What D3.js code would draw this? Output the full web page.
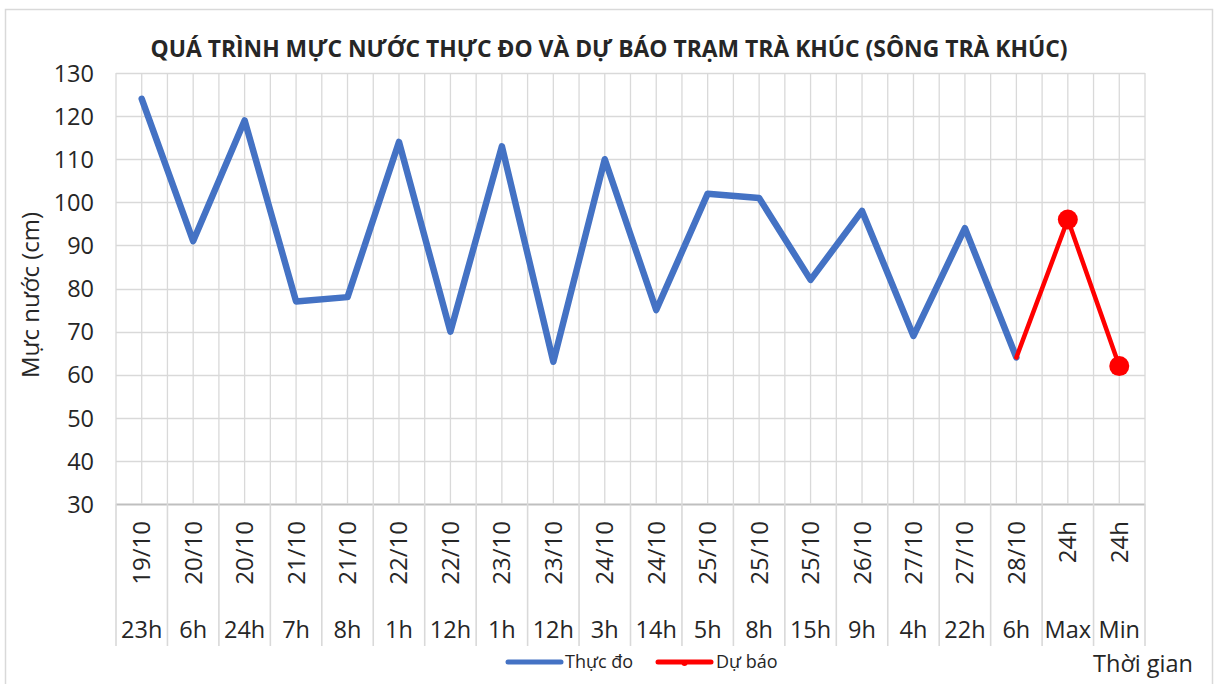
<!DOCTYPE html>
<html>
<head>
<meta charset="utf-8">
<script src="https://cdn.jsdelivr.net/npm/d3@7"></script>
<style>
  html, body { margin: 0; padding: 0; background: #fff; }
  svg { display: block; }
  text { font-family: "Open Sans", sans-serif; fill: #262626; }
</style>
</head>
<body>
<svg id="chart" width="1215" height="684"></svg>
<script>
// ---- data ----
const dates = ["19/10","20/10","20/10","21/10","21/10","22/10","22/10","23/10","23/10","24/10",
               "24/10","25/10","25/10","25/10","26/10","27/10","27/10","28/10","24h","24h"];
const hours = ["23h","6h","24h","7h","8h","1h","12h","1h","12h","3h",
               "14h","5h","8h","15h","9h","4h","22h","6h","Max","Min"];
const observed = [124,91,119,77,78,114,70,113,63,110,75,102,101,82,98,69,94,64,null,null];
const forecast = [null,null,null,null,null,null,null,null,null,null,null,null,null,null,null,null,null,64,96,62];
const forecastMarkers = [false,false,false,false,false,false,false,false,false,false,false,false,false,false,false,false,false,false,true,true];
const yTicks = [30,40,50,60,70,80,90,100,110,120,130];
const titleText = "QUÁ TRÌNH MỰC NƯỚC THỰC ĐO VÀ DỰ BÁO TRẠM TRÀ KHÚC (SÔNG TRÀ KHÚC)";
const yLabel = "Mực nước (cm)";
const xLabel = "Thời gian";
const seriesNames = ["Thực đo", "Dự báo"];

(function () {
// ---- layout ----
const svg = d3.select("#chart");
const pL = 116, pR = 1145, pT = 73, pB = 504;
const labelBottom = 646;
const idx = d3.range(dates.length);

const x = d3.scaleBand().domain(idx).range([pL, pR]).paddingInner(0).paddingOuter(0);
const y = d3.scaleLinear().domain([30, 130]).range([pB, pT]);
const bw = x.bandwidth();
const cx = i => x(i) + bw / 2;

// outer border
svg.append("rect").attr("x", 5.5).attr("y", 9.5).attr("width", 1207).attr("height", 690)
  .attr("fill", "none").attr("stroke", "#d9d9d9").attr("stroke-width", 1.5);

// horizontal grid
svg.append("g").selectAll("line").data(yTicks).join("line")
  .attr("x1", pL).attr("x2", pR)
  .attr("y1", d => Math.round(y(d)) + 0.5).attr("y2", d => Math.round(y(d)) + 0.5)
  .attr("stroke", d => d === 30 ? "#bfbfbf" : "#d9d9d9").attr("stroke-width", d => d === 30 ? 2 : 1.3);

// vertical grid (category boundaries and centers)
const vLines = d3.range(dates.length * 2 + 1).map(k => pL + k * bw / 2);
svg.append("g").selectAll("line").data(vLines).join("line")
  .attr("x1", d => d).attr("x2", d => d)
  .attr("y1", pT).attr("y2", pB)
  .attr("stroke", "#d9d9d9").attr("stroke-width", 1.3);

// separators in label area
const seps = d3.range(dates.length + 1).map(i => pL + i * bw);
svg.append("g").selectAll("line").data(seps).join("line")
  .attr("x1", d => d).attr("x2", d => d)
  .attr("y1", pB).attr("y2", labelBottom)
  .attr("stroke", "#d9d9d9").attr("stroke-width", 1.6);

// y axis tick labels
const yAxis = d3.axisLeft(y).tickValues(yTicks).tickSize(0).tickPadding(0);
const gy = svg.append("g").attr("transform", `translate(${pL - 22},0)`).call(yAxis);
gy.select(".domain").remove();
gy.selectAll("text").attr("font-size", 23.5).attr("fill", "#262626")
  .style("font-family", '"Open Sans", sans-serif')
  .attr("dy", "0.35em");

// date labels (rotated)
svg.append("g").selectAll("text").data(idx).join("text")
  .attr("transform", i => `translate(${cx(i) + 8.5},521) rotate(-90)`)
  .attr("text-anchor", "end")
  .attr("font-size", 24)
  .text(i => dates[i]);

// hour labels
svg.append("g").selectAll("text").data(idx).join("text")
  .attr("x", i => cx(i)).attr("y", 638)
  .attr("text-anchor", "middle").attr("font-size", 23.5)
  .text(i => hours[i]);

// lines
const line = d3.line().defined(d => d.v !== null).x(d => cx(d.i)).y(d => y(d.v));
svg.append("path")
  .datum(observed.map((v, i) => ({ i, v })))
  .attr("d", line).attr("fill", "none")
  .attr("stroke", "#4472C4").attr("stroke-width", 6.5).attr("stroke-linejoin", "round").attr("stroke-linecap", "round");
svg.append("path")
  .datum(forecast.map((v, i) => ({ i, v })))
  .attr("d", line).attr("fill", "none")
  .attr("stroke", "#FF0000").attr("stroke-width", 4.5).attr("stroke-linejoin", "round").attr("stroke-linecap", "round");
svg.append("g").selectAll("circle")
  .data(forecast.map((v, i) => ({ i, v })).filter(d => d.v !== null && forecastMarkers[d.i]))
  .join("circle")
  .attr("cx", d => cx(d.i)).attr("cy", d => y(d.v)).attr("r", 10).attr("fill", "#FF0000");

// title
svg.append("text").attr("x", 609).attr("y", 57).attr("text-anchor", "middle")
  .attr("font-size", 24).attr("font-weight", "bold").attr("fill", "#000")
  .attr("textLength", 917).attr("lengthAdjust", "spacingAndGlyphs")
  .text(titleText);

// y label
svg.append("text").attr("transform", "translate(39,295) rotate(-90)")
  .attr("text-anchor", "middle").attr("font-size", 24).attr("fill", "#000")
  .text(yLabel);

// x label
svg.append("text").attr("x", 1193).attr("y", 672).attr("text-anchor", "end")
  .attr("font-size", 23.5).text(xLabel);

// legend
const lg = svg.append("g");
lg.append("line").attr("x1", 508).attr("x2", 561).attr("y1", 662).attr("y2", 662)
  .attr("stroke", "#4472C4").attr("stroke-width", 5).attr("stroke-linecap", "round");
lg.append("text").attr("x", 565).attr("y", 668).attr("font-size", 18).text(seriesNames[0]);
lg.append("line").attr("x1", 658).attr("x2", 711).attr("y1", 662).attr("y2", 662)
  .attr("stroke", "#FF0000").attr("stroke-width", 5).attr("stroke-linecap", "round");
lg.append("circle").attr("cx", 684.5).attr("cy", 663).attr("r", 3).attr("fill", "#FF0000");
lg.append("text").attr("x", 716).attr("y", 668).attr("font-size", 18).text(seriesNames[1]);
})();
</script>
</body>
</html>
